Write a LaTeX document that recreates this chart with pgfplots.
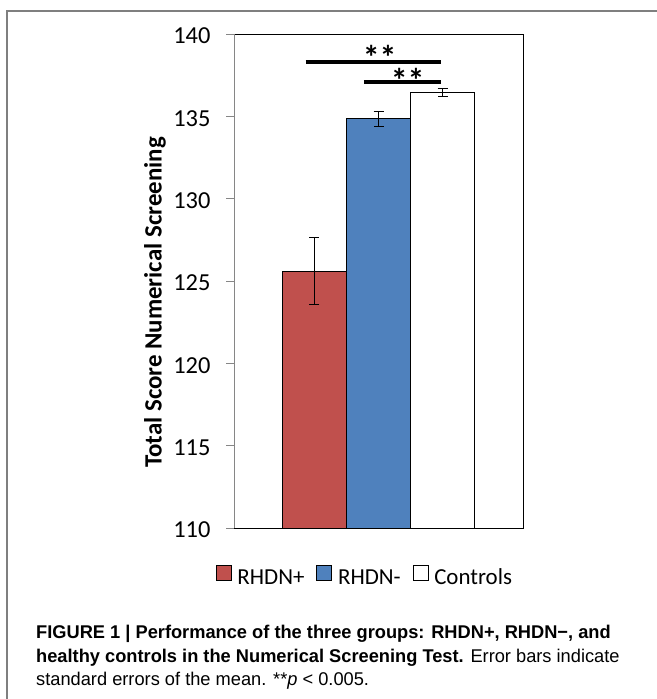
\documentclass[border=0pt]{standalone}
\usepackage{fontspec}
\setmainfont{Carlito}
\newfontfamily\capfont[FakeStretch=0.99]{Liberation Sans}
\usepackage{pgfplots}
\pgfplotsset{compat=1.18}
\definecolor{cred}{HTML}{C0504D}
\definecolor{cblue}{HTML}{4F81BD}
\definecolor{framegray}{HTML}{7F7F7F}
\definecolor{axgray}{HTML}{868686}
\pgfplotsset{mybar/.style={ybar, bar width=64bp, bar shift=0bp, draw=black, line width=0.7bp,
  legend image code/.code={\draw[##1, draw=black, line width=0.6bp] (0bp,-3bp) rectangle (15bp,12bp);},
  /pgfplots/error bars/y dir=both, /pgfplots/error bars/y explicit,
  /pgfplots/error bars/error bar style={black, line width=0.8bp},
  /pgfplots/error bars/error mark options={rotate=90, mark size=5bp, black, line width=0.8bp}}}
\begin{document}
\begin{tikzpicture}[x=1bp,y=1bp]
\path[use as bounding box] (0,0) rectangle (657,699);
\draw[framegray, line width=2bp] (7,0) -- (7,688) -- (657,688);
\begin{axis}[
 at={(234bp,171bp)}, anchor=south west,
 width=289bp, height=494bp, scale only axis,
 xmin=-1, xmax=1, ymin=110, ymax=140,
 xtick=\empty,
 ytick={110,115,...,140}, ytick pos=left,
 tick align=outside, major tick length=8bp,
 ytick style={color=axgray, line width=0.8bp},
 yticklabel style={font=\fontsize{24.5}{24.5}\selectfont, xshift=-12bp, yshift=-2bp},
 /pgf/number format/assume math mode=true,
 axis line style={line width=0.8bp},
 legend style={at={(0.453,-0.099)}, anchor=center, draw=none, fill=none,
   legend columns=3, font=\fontsize{23}{23}\selectfont,
   /tikz/every odd column/.append style={column sep=4bp},
   /tikz/every even column/.append style={column sep=10bp}},
]
\addplot[mybar, fill=cred] coordinates {(-0.443,125.6) +- (0,2.05)};
\addplot[mybar, fill=cblue] coordinates {(0,134.85) +- (0,0.47)};
\addplot[mybar, fill=white] coordinates {(0.443,136.45) +- (0,0.25)};
\legend{RHDN+, RHDN-, Controls}
\addplot[sharp plot, black, line width=4bp, forget plot] coordinates {(-0.504,138.32) (0.435,138.32)};
\addplot[sharp plot, black, line width=4bp, forget plot] coordinates {(-0.102,137.09) (0.435,137.09)};
\node[anchor=base, inner sep=0pt, font=\bfseries\fontsize{34}{34}\selectfont] at (axis cs:0.008,137.85) {**};
\node[anchor=base, inner sep=0pt, font=\bfseries\fontsize{34}{34}\selectfont] at (axis cs:0.202,136.45) {**};
\draw[axgray, line width=0.8bp] (rel axis cs:0,0) -- (rel axis cs:0,1);
\end{axis}
\node[rotate=90, font=\bfseries\fontsize{25}{25}\selectfont] at (155,396.5) {Total Score Numerical Screening};
\node[anchor=base west, inner sep=0pt, font=\capfont\fontsize{18.5}{18.5}\selectfont] at (36,60) {\bfseries FIGURE 1 | Performance of the three groups: RHDN+, RHDN−, and};
\node[anchor=base west, inner sep=0pt, font=\capfont\fontsize{18.5}{18.5}\selectfont] at (36,36) {\bfseries healthy controls in the Numerical Screening Test.\mdseries{} Error bars indicate};
\node[anchor=base west, inner sep=0pt, font=\capfont\fontsize{18.5}{18.5}\selectfont] at (36,13) {standard errors of the mean. **\textit{p} < 0.005.};
\end{tikzpicture}
\end{document}
